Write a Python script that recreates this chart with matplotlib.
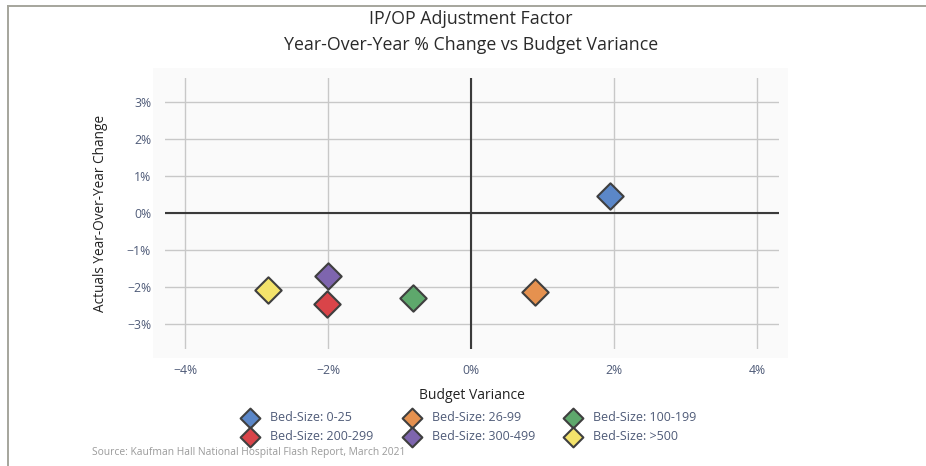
import matplotlib
matplotlib.use("Agg")
import matplotlib.pyplot as plt
from matplotlib.patches import Rectangle
from matplotlib.lines import Line2D

plt.rcParams['font.family'] = ['Open Sans', 'DejaVu Sans']

# data (percent)
groups = ['Bed-Size: 0-25', 'Bed-Size: 26-99', 'Bed-Size: 100-199',
          'Bed-Size: 200-299', 'Bed-Size: 300-499', 'Bed-Size: >500']
budget_var = [1.94, 0.90, -0.81, -2.01, -2.00, -2.84]
yoy_change = [0.47, -2.13, -2.29, -2.46, -1.70, -2.08]
colors = ['#5b87c8', '#e5914f', '#5ea86c', '#d94449', '#7e65ae', '#f4e36b']

xticks = [-4, -2, 0, 2, 4]
yticks = [-3, -2, -1, 0, 1, 2, 3]

W, H = 926, 466
fig = plt.figure(figsize=(W / 100, H / 100), dpi=100)

# page border (top and left)
fig.add_artist(Line2D([8 / W, 1], [1 - 6 / H, 1 - 6 / H], color='#a5a59c', lw=1.4))
fig.add_artist(Line2D([8 / W, 8 / W], [0, 1 - 6 / H], color='#a5a59c', lw=1.4))

# plot background, a bit larger than grid area
fig.add_artist(Rectangle((153 / W, 1 - 358 / H), (788 - 153) / W, (358 - 68) / H,
                         transform=fig.transFigure, facecolor='#fafafa',
                         edgecolor='none', zorder=0))

ax = fig.add_axes([165 / W, 1 - 349 / H, (779 - 165) / W, (349 - 78) / H])
ax.set_facecolor('none')
for s in ax.spines.values():
    s.set_visible(False)

ax.set_xlim(-4.28, 4.31)
ax.set_ylim(-3.676, 3.649)
ax.set_xticks(xticks)
ax.set_yticks(yticks)
ax.set_xticklabels([f"{v}%".replace('-', '\u2212') for v in xticks])
ax.set_yticklabels([f"{v}%".replace('-', '\u2212') for v in yticks])
ax.tick_params(length=0, labelsize=8.8, labelcolor='#4f5b78')
ax.tick_params(axis='x', pad=11)
ax.tick_params(axis='y', pad=10)
ax.grid(True, color='#c8c8c8', lw=1.0)
ax.set_axisbelow(True)
ax.axhline(0, color='#3a3a3a', lw=1.5, zorder=2)
ax.axvline(0, color='#3a3a3a', lw=1.5, zorder=2)

handles = []
for x, y, c, lab in zip(budget_var, yoy_change, colors, groups):
    h = ax.scatter(x, y, marker='D', s=180, facecolor=c, edgecolor='#3f3f3f',
                   linewidth=1.5, zorder=3, label=lab)
    handles.append(h)

ax.set_xlabel('Budget Variance', fontsize=10, color='#222222')
ax.xaxis.set_label_coords(0.5, -0.145)
ax.set_ylabel('Actuals Year-Over-Year Change', fontsize=9.8, color='#222222')
ax.yaxis.set_label_coords(-0.093, 0.5)

fig.text(471 / W, 1 - 32 / H,
         'IP/OP Adjustment Factor\nYear-Over-Year % Change vs Budget Variance',
         ha='center', va='center', fontsize=12.8, color='#2a2a2a', linespacing=1.62)

order = [0, 3, 1, 4, 2, 5]
leg = fig.legend([handles[i] for i in order], [groups[i] for i in order],
                 ncol=3, loc='center', bbox_to_anchor=(469 / W, 1 - 427 / H),
                 frameon=False, fontsize=9, labelcolor='#4f5b78',
                 markerscale=0.75, handletextpad=0.9, columnspacing=2.35,
                 labelspacing=0.45, handlelength=1.4)

fig.text(92 / W, 1 - 453 / H,
         'Source: Kaufman Hall National Hospital Flash Report, March 2021',
         ha='left', va='center', fontsize=7.4, color='#9a9a9a')

fig.savefig('out.png', dpi=100)
